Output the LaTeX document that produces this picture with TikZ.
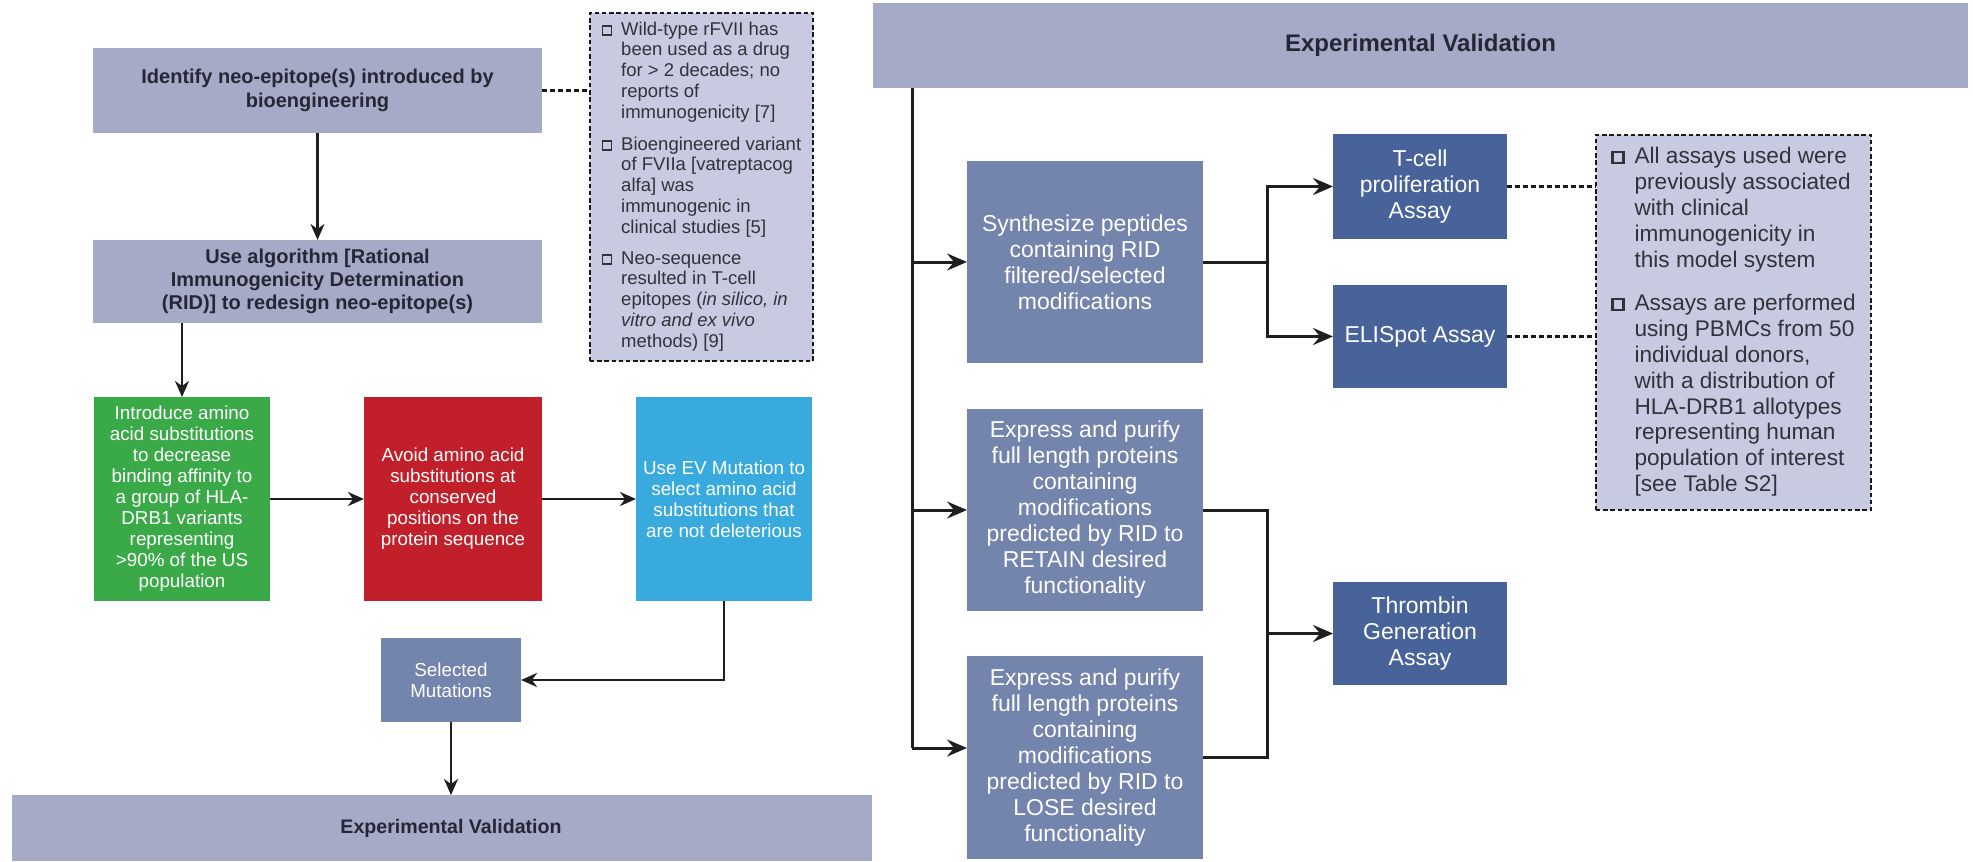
\documentclass[tikz,border=0pt]{standalone}
\usepackage{fontspec}
\setmainfont{Liberation Sans}
\usetikzlibrary{arrows.meta,calc}
\definecolor{lav}{RGB}{165,170,199}
\definecolor{notefill}{RGB}{199,202,225}
\definecolor{grn}{RGB}{58,170,73}
\definecolor{rd}{RGB}{193,32,43}
\definecolor{sky}{RGB}{56,170,222}
\definecolor{slate}{RGB}{115,132,173}
\definecolor{navy}{RGB}{72,99,153}
\definecolor{txtdark}{RGB}{38,38,54}
\definecolor{notetxt}{RGB}{50,50,58}
\newcommand\bxs{\raisebox{0.4pt}{{\setlength\fboxsep{0pt}\setlength\fboxrule{0.7pt}\fbox{\rule{0pt}{3.8pt}\hspace{3.8pt}}}}}
\newcommand\bxl{\raisebox{0.8pt}{{\setlength\fboxsep{0pt}\setlength\fboxrule{1.1pt}\fbox{\rule{0pt}{4.4pt}\hspace{4.4pt}}}}}
\tikzset{
  x=0.5pt, y=-0.5pt,
  sz/.style 2 args={minimum width=#1*0.5pt, minimum height=#2*0.5pt},
  base/.style={rectangle, inner sep=0pt, outer sep=0pt, align=center},
  lavbox/.style={base, fill=lav, text=txtdark, font=\fontsize{10}{11.8}\selectfont\bfseries},
  colbox/.style={base, fill=#1, text=white, font=\fontsize{9.4}{10.5}\selectfont},
  slatebox/.style={base, fill=slate, text=white, font=\fontsize{11.5}{13}\selectfont},
  navybox/.style={base, fill=navy, text=white, font=\fontsize{11.5}{13}\selectfont},
  notebox/.style={base, fill=notefill, draw=black!90, line width=1pt, dash pattern=on 2.2pt off 1.4pt, text=notetxt},
  arrL/.style={draw=black!88, line width=1.3pt, -{Stealth[length=8pt,width=7pt,inset=2.5pt]}},
  lineR/.style={draw=black!88, line width=1.5pt},
  arrR/.style={draw=black!88, line width=1.5pt, -{Stealth[length=10pt,width=8.5pt,inset=3.5pt]}},
  dotc/.style={draw=black!90, line width=1.1pt, dash pattern=on 2.4pt off 1.6pt},
}
\begin{document}
\begin{tikzpicture}
\fill[white] (0,0) rectangle (1973,861);
\useasboundingbox (0,0) rectangle (1973,861);

% ---------- left panel ----------
\node[lavbox, sz={449}{85}] (ident) at (317.5,90.5) {Identify neo-epitope(s) introduced by\\bioengineering};
\node[lavbox, sz={449}{83}, font=\fontsize{10}{11.5}\selectfont\bfseries] (rid) at (317.5,281.5) {Use algorithm [Rational\\Immunogenicity Determination\\(RID)] to redesign neo-epitope(s)};
\node[colbox=grn, sz={176}{204}] (green) at (182,499) {Introduce amino\\acid substitutions\\to decrease\\binding affinity to\\a group of HLA-\\DRB1 variants\\representing\\>90\% of the US\\population};
\node[colbox=rd, sz={178}{204}] (red) at (453,499) {Avoid amino acid\\substitutions at\\conserved\\positions on the\\protein sequence};
\node[colbox=sky, sz={176}{204}] (blue) at (724,499) {Use EV Mutation to\\select amino acid\\substitutions that\\are not deleterious};
\node[colbox=slate, sz={140}{84}] (sel) at (451,680) {Selected\\Mutations};
\node[lavbox, sz={860}{66}, font=\fontsize{9.8}{11.5}\selectfont\bfseries] (evL) at (442,828) {\hspace*{9pt}Experimental Validation};

\node[notebox, sz={223}{348}, font=\fontsize{9.25}{10.4}\selectfont] (note1) at (701.5,187) {%
\begin{tabular}{@{}l@{\hspace{4.5pt}}l@{}}
\bxs & Wild-type rFVII has\\
 & been used as a drug\\
 & for > 2 decades; no\\
 & reports of\\
 & immunogenicity [7]\\[5.5pt]
\bxs & Bioengineered variant\\
 & of FVIIa [vatreptacog\\
 & alfa] was\\
 & immunogenic in\\
 & clinical studies [5]\\[5pt]
\bxs & Neo-sequence\\
 & resulted in T-cell\\
 & epitopes (\textit{in silico, in}\\
 & \textit{vitro and ex vivo}\\
 & methods) [9]
\end{tabular}};

\draw[arrL] (ident.south) -- (rid.north);
\draw[dotc] (ident.east) -- (ident.east -| note1.west);
\draw[arrL] (green.north |- rid.south) -- (green.north);
\draw[arrL] (green.east) -- (red.west);
\draw[arrL] (red.east) -- (blue.west);
\draw[arrL] (blue.south) |- (sel.east);
\draw[arrL] (sel.south) -- (sel.south |- evL.north);

% ---------- right panel ----------
\node[lavbox, sz={1095}{85}, font=\fontsize{12}{14}\selectfont\bfseries] (evR) at (1420.5,45.5) {Experimental Validation};
\node[slatebox, sz={236}{202}] (synth) at (1085,262) {Synthesize peptides\\containing RID\\filtered/selected\\modifications};
\node[navybox, sz={174}{105}] (tcell) at (1420,186.5) {T-cell\\proliferation\\Assay};
\node[navybox, sz={174}{103}] (elispot) at (1420,336.5) {ELISpot Assay};
\node[slatebox, sz={236}{202}] (retain) at (1085,510) {Express and purify\\full length proteins\\containing\\modifications\\predicted by RID to\\RETAIN desired\\functionality};
\node[slatebox, sz={236}{203}] (lose) at (1085,757.5) {Express and purify\\full length proteins\\containing\\modifications\\predicted by RID to\\LOSE desired\\functionality};
\node[navybox, sz={174}{103}] (thrombin) at (1420,633.5) {Thrombin\\Generation\\Assay};

\node[notebox, sz={275}{375}, font=\fontsize{11.3}{12.9}\selectfont] (note2) at (1733.5,322.5) {%
\begin{tabular}{@{}l@{\hspace{5pt}}l@{}}
\bxl & All assays used were\\
 & previously associated\\
 & with clinical\\
 & immunogenicity in\\
 & this model system\\[9pt]
\bxl & Assays are performed\\
 & using PBMCs from 50\\
 & individual donors,\\
 & with a distribution of\\
 & HLA-DRB1 allotypes\\
 & representing human\\
 & population of interest\\
 & [see Table S2]
\end{tabular}};

\coordinate (tk) at (912,0);
\coordinate (br) at (1267,0);
\coordinate (loseIn) at (967,748);

\draw[lineR] (tk |- evR.south) -- (tk |- loseIn);
\draw[arrR] (tk |- synth.west) -- (synth.west);
\draw[arrR] (tk |- retain.west) -- (retain.west);
\draw[arrR] (tk |- loseIn) -- (loseIn);

\draw[lineR] (synth.east) -- (br |- synth.east);
\draw[arrR] (br |- synth.east) |- (tcell.west);
\draw[arrR] (br |- synth.east) |- (elispot.west);

\draw[lineR] (retain.east) -| (br |- lose.east) -- (lose.east);
\draw[arrR] (br |- thrombin.west) -- (thrombin.west);

\draw[dotc] (tcell.east) -- (tcell.east -| note2.west);
\draw[dotc] (elispot.east) -- (elispot.east -| note2.west);
\end{tikzpicture}
\end{document}
